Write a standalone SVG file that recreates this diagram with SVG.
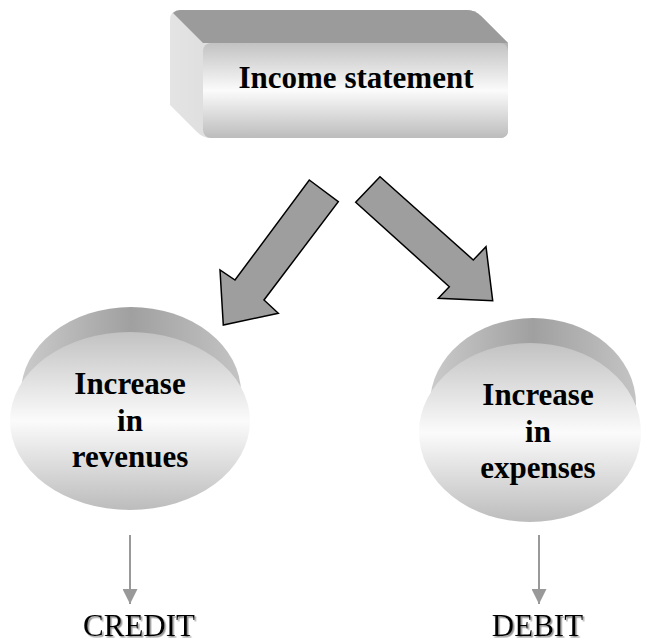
<svg xmlns="http://www.w3.org/2000/svg" width="648" height="644" viewBox="0 0 648 644">
  <defs>
    <linearGradient id="frontV" x1="0" y1="0" x2="0" y2="1">
      <stop offset="0" stop-color="#c2c2c2"/>
      <stop offset="0.5" stop-color="#fbfbfb"/>
      <stop offset="1" stop-color="#bcbcbc"/>
    </linearGradient>
    <linearGradient id="backH" x1="0" y1="0" x2="1" y2="0">
      <stop offset="0" stop-color="#cbcbcb"/>
      <stop offset="0.5" stop-color="#a0a0a0"/>
      <stop offset="1" stop-color="#c4c4c4"/>
    </linearGradient>
    <linearGradient id="sideH" x1="0" y1="0" x2="1" y2="0">
      <stop offset="0" stop-color="#e4e4e4"/>
      <stop offset="1" stop-color="#b4b4b4"/>
    </linearGradient>
    <filter id="shadow" x="-10%" y="-20%" width="130%" height="150%">
      <feDropShadow dx="1.5" dy="1.5" stdDeviation="0.7" flood-color="#777" flood-opacity="0.8"/>
    </filter>
    <marker id="arrowhead" markerUnits="userSpaceOnUse" markerWidth="15" markerHeight="15" viewBox="0 0 10 10" refX="10" refY="5" orient="auto">
      <path d="M0,0 L10,5 L0,10 z" fill="#999999"/>
    </marker>
  </defs>
  <style>
    .bold { font-family: "Liberation Serif", "Times New Roman", serif; font-weight: bold; font-size: 31px; fill: #000; text-anchor: middle; }
    .plain { font-family: "Liberation Serif", "Times New Roman", serif; font-size: 31px; fill: #000; text-anchor: middle; }
    .block { fill: #9e9e9e; stroke: #000; stroke-width: 1.5; stroke-linejoin: miter; }
    .thin { stroke: #999999; stroke-width: 2; fill: none; }
  </style>

  <g id="node-income">
    <path d="M170,20 Q170,10 180,10 L467,10 Q475,10 481,16 L508,43 L508,130 Q508,138 500,138 L211,138 Q203,138 197,132 L170,105 Z" fill="url(#sideH)"/>
    <path d="M180,10 L467,10 Q475,10 481,16 L508,43 L203,43 L173,13 Q176,10 180,10 Z" fill="#9b9b9b"/>
    <rect x="203" y="43" width="305" height="95" rx="8" fill="url(#frontV)"/>
    <text class="bold" x="356" y="88">Income statement</text>
  </g>

  <g id="node-revenues">
    <ellipse cx="131" cy="393" rx="110" ry="86" fill="url(#backH)"/>
    <ellipse cx="130" cy="421" rx="120" ry="89" fill="url(#frontV)"/>
    <text class="bold" x="130" y="394">Increase</text>
    <text class="bold" x="130" y="430.5">in</text>
    <text class="bold" x="130" y="467">revenues</text>
  </g>

  <g id="node-expenses">
    <ellipse cx="533" cy="404" rx="103" ry="86" fill="url(#backH)"/>
    <ellipse cx="530" cy="432.5" rx="111" ry="89.5" fill="url(#frontV)"/>
    <text class="bold" x="538" y="405">Increase</text>
    <text class="bold" x="538" y="441.5">in</text>
    <text class="bold" x="538" y="478">expenses</text>
  </g>

  <g id="node-credit">
    <text class="plain" x="139" y="636" filter="url(#shadow)">CREDIT</text>
  </g>

  <g id="node-debit">
    <text class="plain" x="537.5" y="636" filter="url(#shadow)">DEBIT</text>
  </g>

  <g id="connectors">
    <polygon class="block" points="309.3,180 338.3,201.7 264,300 278.3,313.3 223.3,325 220,270 235,280"/>
    <polygon class="block" points="380,176.7 355.7,202.3 449.3,286.7 438.3,298.3 492.7,300.7 486,246.7 473.3,260"/>
    <line class="thin" x1="130" y1="535" x2="130" y2="604" marker-end="url(#arrowhead)"/>
    <line class="thin" x1="539" y1="535" x2="539" y2="604" marker-end="url(#arrowhead)"/>
  </g>
</svg>
